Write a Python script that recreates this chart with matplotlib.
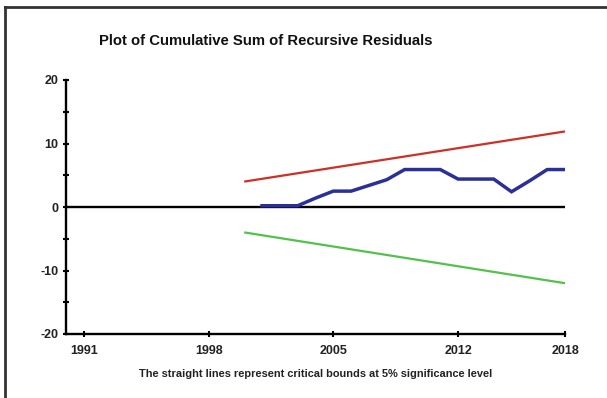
import matplotlib
matplotlib.use("Agg")
import matplotlib.pyplot as plt
from matplotlib.lines import Line2D
from matplotlib import font_manager

# --- data -------------------------------------------------------------
cusum_years = [2001, 2002, 2003, 2004, 2005, 2006, 2007, 2008, 2009,
               2010, 2011, 2012, 2013, 2014, 2015, 2016, 2017, 2018]
cusum_values = [0.2, 0.2, 0.2, 1.4, 2.5, 2.5, 3.4, 4.3, 5.9,
                5.9, 5.9, 4.4, 4.4, 4.4, 2.4, 4.1, 5.9, 5.9]

bound_years = [2000, 2018]
upper_bound = [4.0, 11.9]
lower_bound = [-4.0, -12.0]

x_ticks = [1991, 1998, 2005, 2012, 2018]
y_ticks = [-20, -15, -10, -5, 0, 5, 10, 15, 20]
y_tick_labels = ["-20", "", "-10", "", "0", "", "10", "", "20"]

title = "Plot of Cumulative Sum of Recursive Residuals"
caption = "The straight lines represent critical bounds at 5% significance level"

# --- fonts --------------------------------------------------------------
names = {f.name for f in font_manager.fontManager.ttflist}
family = "Liberation Sans Narrow" if "Liberation Sans Narrow" in names else "Liberation Sans"

# --- figure -------------------------------------------------------------
W, H = 607, 398
fig = plt.figure(figsize=(W / 100, H / 100), dpi=100)
ax = fig.add_axes([66 / W, 1 - 334 / H, (565 - 66) / W, (334 - 80) / H])

ax.plot(bound_years, upper_bound, color="#cf2f25", lw=1.6, solid_capstyle="butt", zorder=3)
ax.plot(bound_years, lower_bound, color="#52c24a", lw=1.6, solid_capstyle="butt", zorder=3)
ax.axhline(0, color="black", lw=1.7, zorder=2)
ax.plot(cusum_years, cusum_values, color="#2b2f99", lw=2.5, solid_joinstyle="miter", zorder=4)

ax.set_xlim(1990, 2018)
ax.set_ylim(-20, 20)

for side in ("top", "right"):
    ax.spines[side].set_visible(False)
for side in ("left", "bottom"):
    ax.spines[side].set_linewidth(1.7)
    ax.spines[side].set_color("black")

ax.set_xticks(x_ticks)
ax.set_xticklabels([str(y) for y in x_ticks])
ax.set_yticks(y_ticks)
ax.set_yticklabels(y_tick_labels)
ax.tick_params(axis="both", direction="inout", length=4.5, width=1.5, colors="black",
               labelsize=9)
ax.tick_params(axis="x", pad=6)
ax.tick_params(axis="y", pad=3)
for lab in ax.get_xticklabels() + ax.get_yticklabels():
    lab.set_fontfamily(family)
    lab.set_fontweight("bold")
    lab.set_color("#222222")

fig.text(266 / W, 1 - 41 / H, title, ha="center", va="center",
         fontsize=10.7, fontweight="bold", family=family, color="#111111")
fig.text(316 / W, 1 - 374 / H, caption, ha="center", va="center",
         fontsize=7.9, fontweight="bold", family=family, color="#222222")

# outer frame (top and left edges)
fig.add_artist(Line2D([5 / W, 1.0], [1 - 7 / H, 1 - 7 / H], transform=fig.transFigure,
                      color="#333333", lw=2.0))
fig.add_artist(Line2D([5 / W, 5 / W], [0.0, 1 - 7 / H], transform=fig.transFigure,
                      color="#333333", lw=2.0))

fig.savefig("out.png", dpi=100)
